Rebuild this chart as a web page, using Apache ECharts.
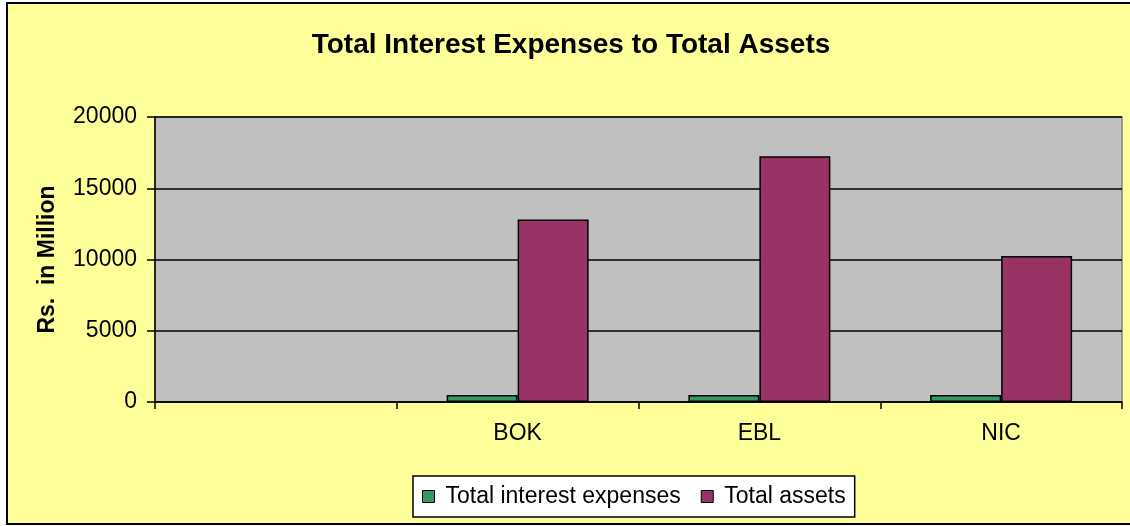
<!DOCTYPE html>
<html>
<head>
<meta charset="utf-8">
<script src="https://cdn.jsdelivr.net/npm/echarts@6/dist/echarts.min.js"></script>
<style>
  html, body { margin: 0; padding: 0; background: #fff; }
  .frame {
    position: absolute; left: 6px; top: 2px; width: 1140px; height: 519px;
    background: #ffff99; border: 2px solid #000;
  }
  #chart { position: absolute; left: 0; top: 0; width: 1130px; height: 526px; }
</style>
</head>
<body>
<div class="frame"></div>
<div id="chart"></div>
<script>
const categories = ["", "BOK", "EBL", "NIC"];
const interestExpenses = [null, 500, 500, 500];
const totalAssets = [null, 12800, 17250, 10250];
const yTicks = [0, 5000, 10000, 15000, 20000];

const FONT = "'Liberation Sans', Arial, sans-serif";
const GREEN = "#339966";
const MAROON = "#993366";

const chart = echarts.init(document.getElementById("chart"));

chart.setOption({
  backgroundColor: "transparent",
  animation: false,
  title: {
    text: "Total Interest Expenses to Total Assets",
    left: 566,
    textAlign: "center",
    top: 26,
    textStyle: { fontFamily: FONT, fontSize: 28, fontWeight: "bold", color: "#000" },
  },
  legend: {
    left: 413,
    top: 476,
    padding: [9, 9, 9, 9],
    itemGap: 20,
    itemWidth: 12,
    itemHeight: 12,
    icon: "rect",
    backgroundColor: "#fff",
    borderColor: "#000",
    borderWidth: 1.5,
    borderRadius: 0,
    textStyle: { fontFamily: FONT, fontSize: 23, color: "#000", padding: [0, 0, 0, 6] },
    data: [
      { name: "Total interest expenses", itemStyle: { color: GREEN, borderColor: "#000", borderWidth: 1 } },
      { name: "Total assets", itemStyle: { color: MAROON, borderColor: "#000", borderWidth: 1 } },
    ],
  },
  grid: {
    left: 155,
    right: 8,
    top: 117,
    bottom: 124,
    show: true,
    backgroundColor: "#c0c0c0",
    borderColor: "#808080",
    borderWidth: 1.5,
  },
  xAxis: {
    type: "category",
    data: categories,
    boundaryGap: true,
    axisLine: { show: true, lineStyle: { color: "#000", width: 1.5 } },
    axisTick: { show: true, inside: false, length: 7, lineStyle: { color: "#000", width: 1.5 } },
    axisLabel: { color: "#000", fontFamily: FONT, fontSize: 23, margin: 20 },
  },
  yAxis: {
    type: "value",
    min: yTicks[0],
    max: yTicks[yTicks.length - 1],
    interval: yTicks[1] - yTicks[0],
    name: "Rs.  in Million",
    nameLocation: "middle",
    nameGap: 96,
    nameTextStyle: { fontFamily: FONT, fontSize: 23, fontWeight: "bold", color: "#000" },
    axisLine: { show: true, lineStyle: { color: "#000", width: 1.5 } },
    axisTick: { show: true, length: 8, lineStyle: { color: "#000", width: 1.5 } },
    axisLabel: {
      color: "#000",
      fontFamily: FONT,
      fontSize: 23,
      margin: 18,
      formatter: (v) => String(v),
    },
    splitLine: { show: true, lineStyle: { color: "#000", width: 1.5 } },
  },
  series: [
    {
      name: "Total interest expenses",
      type: "bar",
      data: interestExpenses,
      barWidth: 71,
      barGap: "0%",
      itemStyle: { color: GREEN, borderColor: "#000", borderWidth: 1.5 },
    },
    {
      name: "Total assets",
      type: "bar",
      data: totalAssets,
      barWidth: 71,
      itemStyle: { color: MAROON, borderColor: "#000", borderWidth: 1.5 },
    },
  ],
});
</script>
</body>
</html>
